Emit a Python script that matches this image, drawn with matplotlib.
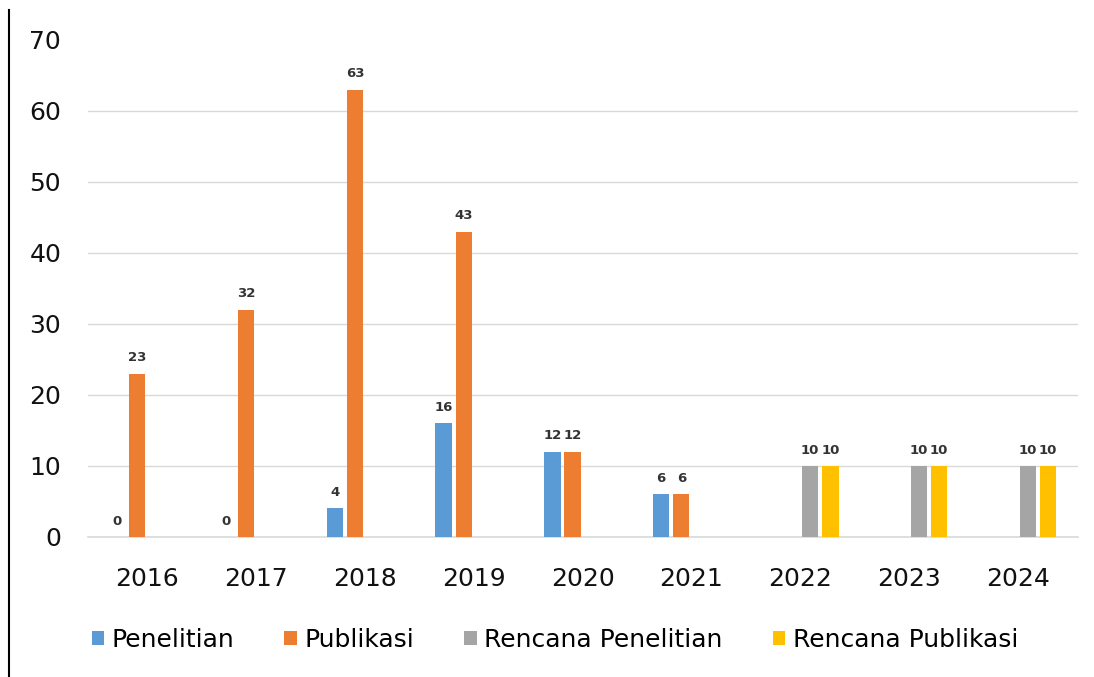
import matplotlib.pyplot as plt
from matplotlib.lines import Line2D
import numpy as np

years = ['2016', '2017', '2018', '2019', '2020', '2021', '2022', '2023', '2024']
nan = np.nan
penelitian = [0, 0, 4, 16, 12, 6, nan, nan, nan]
publikasi = [23, 32, 63, 43, 12, 6, nan, nan, nan]
rencana_penelitian = [nan, nan, nan, nan, nan, nan, 10, 10, 10]
rencana_publikasi = [nan, nan, nan, nan, nan, nan, 10, 10, 10]

series = [
  ('Penelitian', penelitian, '#5B9BD5'),
  ('Publikasi', publikasi, '#ED7D31'),
  ('Rencana Penelitian', rencana_penelitian, '#A5A5A5'),
  ('Rencana Publikasi', rencana_publikasi, '#FFC000'),
]

fig = plt.figure(figsize=(10.94, 6.77), dpi=100)
ax = fig.add_axes([0.08, 0.207, 0.905, 0.734])

x = np.arange(len(years))
slot = 0.185
width = 0.15
for i, (name, vals, colour) in enumerate(series):
  pos = x + (i - 1.5) * slot
  ax.bar(pos, vals, width, color=colour, label=name, zorder=3)
  for p, v in zip(pos, vals):
    if not np.isnan(v):
      ax.text(p, v + 1.3, '%d' % v, ha='center', va='bottom',
              fontsize=9.5, fontweight='bold', color='#333333')

ax.set_xlim(-0.55, len(years) - 0.45)
ax.set_ylim(0, 70)
ax.set_yticks(range(0, 71, 10))
ax.set_xticks(x)
ax.set_xticklabels(years)
ax.tick_params(axis='both', length=0, labelsize=18, colors='#111111')
ax.tick_params(axis='x', pad=22)
ax.tick_params(axis='y', pad=19)

ax.yaxis.grid(True, color='#D9D9D9', linewidth=1, zorder=0)
ax.get_ygridlines()[-1].set_visible(False)
ax.axhline(0, color='#D9D9D9', linewidth=1.2, clip_on=False, zorder=2)
for side in ['top', 'right', 'left', 'bottom']:
  ax.spines[side].set_visible(False)

ax.legend(loc='center', bbox_to_anchor=(0.472, -0.207), ncol=4,
          frameon=False, fontsize=18, handlelength=0.5, handleheight=0.5,
          handletextpad=0.3, columnspacing=2.0)

fig.add_artist(Line2D([0.008, 0.008], [0, 0.985], color='black', linewidth=1.5))

fig.savefig('out.png', dpi=100)
